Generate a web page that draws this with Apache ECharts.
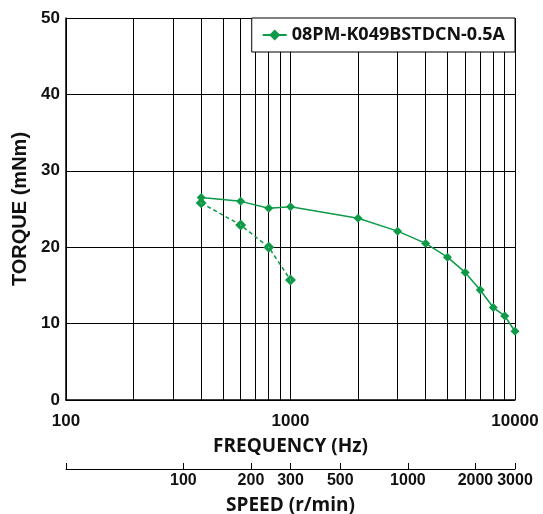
<!DOCTYPE html>
<html><head><meta charset="utf-8">
<script src="https://cdn.jsdelivr.net/npm/echarts@6/dist/echarts.min.js"></script>
<style>html,body{margin:0;padding:0;background:#fff}#c{width:543px;height:514px}</style>
</head><body><div id="c"></div>
<script>
const seriesName = '08PM-K049BSTDCN-0.5A';
const freqSolid = [400, 600, 800, 1000, 2000, 3000, 4000, 5000, 6000, 7000, 8000, 9000, 10000];
const torqueSolid = [26.5, 26.0, 25.1, 25.3, 23.8, 22.1, 20.5, 18.7, 16.7, 14.4, 12.1, 11.0, 9.0];
const freqDashed = [400, 600, 800, 1000];
const torqueDashed = [25.8, 22.9, 20.0, 15.7];
const freqGridTicks = [100,200,300,400,500,600,700,800,900,1000,2000,3000,4000,5000,6000,7000,8000,9000,10000];
const freqLabels = [100, 1000, 10000];
const speedTicks = [30, 100, 200, 300, 500, 1000, 2000, 3000];
const speedLabels = [100, 200, 300, 500, 1000, 2000, 3000];

const green = '#0e9a48';
const numFont = {fontFamily: 'Liberation Sans', fontWeight: 'bold', fontSize: 17, color: '#111'};
const nameFont = {fontFamily: 'Open Sans', fontWeight: 'bold', fontSize: 19, color: '#111'};
const plain = v => String(Math.round(v));

const chart = echarts.init(document.getElementById('c'), null, {renderer: 'canvas'});
chart.setOption({
  animation: false,
  backgroundColor: '#fff',
  grid: {left: 66, right: 28, top: 18, bottom: 114, containLabel: false, outerBoundsMode: 'none'},
  legend: {
    data: [seriesName], right: 28, top: 18,
    backgroundColor: '#fff', borderColor: '#000', borderWidth: 1,
    padding: [8, 10, 8, 10], itemWidth: 24, itemHeight: 14, itemGap: 6,
    textStyle: {fontFamily: 'Open Sans', fontWeight: 'bold', fontSize: 18, color: '#111'}
  },
  xAxis: [{
    type: 'log', logBase: 10, min: 100, max: 10000, position: 'bottom',
    name: 'FREQUENCY (Hz)', nameLocation: 'middle', nameGap: 37, nameTextStyle: nameFont,
    axisLine: {show: true, lineStyle: {color: '#000', width: 1.5}},
    axisTick: {show: false, customValues: freqGridTicks},
    axisLabel: {show: true, customValues: freqLabels, margin: 13, formatter: plain,
      showMinLabel: true, showMaxLabel: true, hideOverlap: false, ...numFont},
    splitLine: {show: true, lineStyle: {color: '#000', width: 1}},
    minorTick: {show: false}, minorSplitLine: {show: false}
  }, {
    type: 'log', logBase: 10, min: 30, max: 3000, position: 'bottom', offset: 69,
    name: 'SPEED (r/min)', nameLocation: 'middle', nameGap: 27, nameTextStyle: nameFont,
    axisLine: {show: true, onZero: false, lineStyle: {color: '#000', width: 1}},
    axisTick: {show: true, inside: true, length: 6, customValues: speedTicks, lineStyle: {color: '#000'}},
    axisLabel: {show: true, customValues: speedLabels, margin: 4, formatter: plain,
      showMinLabel: true, showMaxLabel: true, hideOverlap: false, ...numFont, fontSize: 16},
    splitLine: {show: false}
  }],
  yAxis: {
    type: 'value', min: 0, max: 50, interval: 10,
    name: 'TORQUE (mNm)', nameLocation: 'middle', nameGap: 33,
    nameTextStyle: {fontFamily: 'Liberation Sans', fontWeight: 'bold', fontSize: 20, color: '#111'},
    axisLine: {show: true, lineStyle: {color: '#000', width: 1.5}},
    axisTick: {show: false},
    axisLabel: {margin: 6, ...numFont},
    splitLine: {show: true, lineStyle: {color: '#000', width: 1}}
  },
  series: [{
    name: seriesName, type: 'line', xAxisIndex: 0,
    data: freqSolid.map((f, i) => [f, torqueSolid[i]]),
    symbol: 'diamond', symbolSize: 9, showAllSymbol: true,
    lineStyle: {color: green, width: 1.5}, itemStyle: {color: green}
  }, {
    name: 'dashed', type: 'line', xAxisIndex: 0,
    data: freqDashed.map((f, i) => [f, torqueDashed[i]]),
    symbol: 'diamond', symbolSize: 6, showAllSymbol: true,
    lineStyle: {color: green, width: 1.5, type: [4, 3]},
    itemStyle: {color: '#fff', borderColor: green, borderWidth: 3.5}
  }]
});
</script></body></html>
